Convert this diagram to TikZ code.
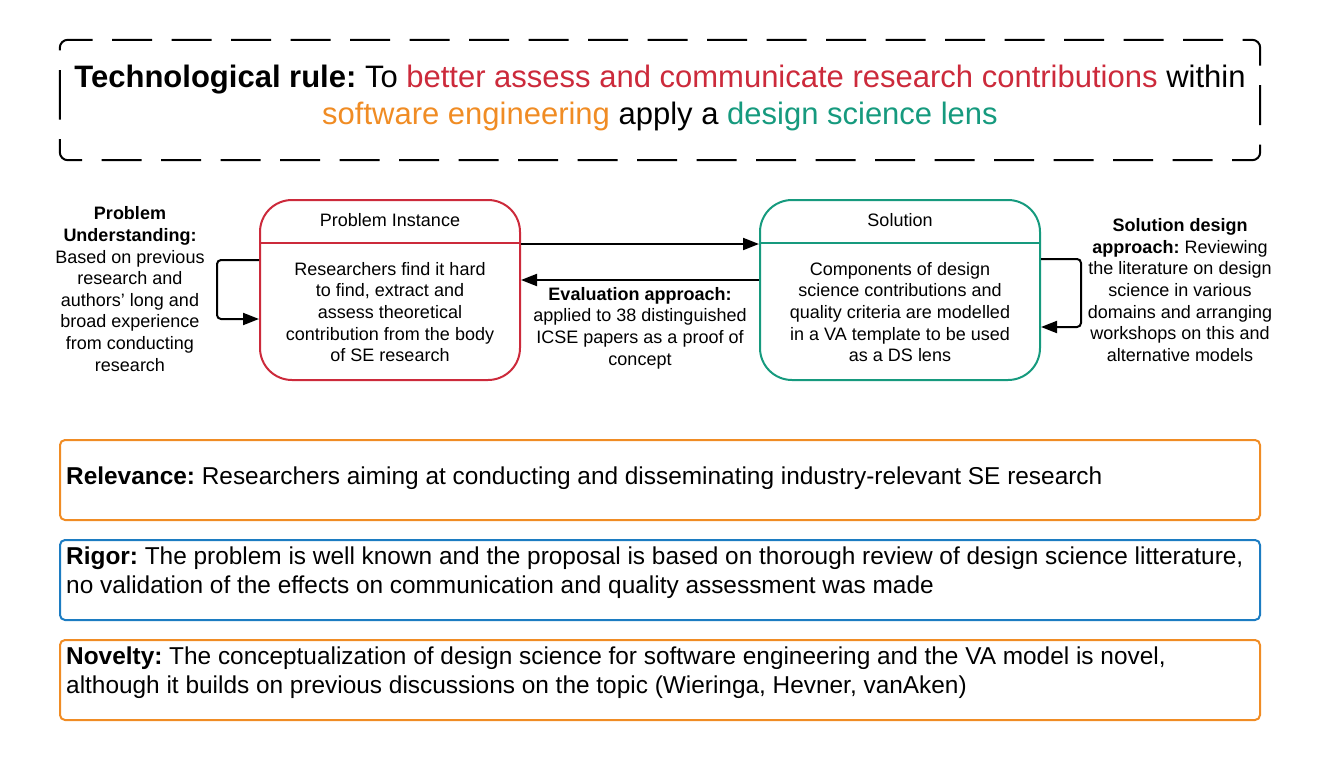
\documentclass[tikz,border=0pt]{standalone}
\usepackage{fontspec}
\setmainfont{Liberation Sans}
\usetikzlibrary{arrows.meta}
\definecolor{cred}{HTML}{CC2A3B}
\definecolor{cteal}{HTML}{169A7E}
\definecolor{corange}{HTML}{F08C24}
\definecolor{cblue}{HTML}{1C7CC2}
\AtBeginDocument{\frenchspacing}
\tikzset{
  bigbox/.style={draw, line width=2pt, rounded corners=32pt, minimum width=#1, minimum height=180pt, inner sep=0pt},
  infobox/.style={draw=#1, line width=2pt, rounded corners=5pt, minimum width=1200pt, minimum height=80pt, inner sep=0pt},
  t18/.style={font=\fontsize{18}{21.6}\selectfont, align=center, inner sep=0pt},
  t24/.style={font=\fontsize{24.4}{28.5}\selectfont, align=left, inner sep=0pt, anchor=north west},
  arr/.style={line width=2pt, -{Triangle[length=16pt,width=12pt]}},
  looparr/.style={line width=2pt, rounded corners=4pt, -{Triangle[length=16pt,width=12pt]}},
}
\begin{document}
\begin{tikzpicture}[x=1pt,y=-1pt]
\useasboundingbox (0,0) rectangle (1321,760);
% technological rule
\node[minimum width=1200pt, minimum height=120pt, inner sep=0pt] (rulebox) at (660,100) {};
\draw[line width=2pt, rounded corners=8pt, dash pattern=on 40pt off 19.5pt]
  ([yshift=-18pt]rulebox.west) -- (rulebox.north west) -- (rulebox.north east)
  -- (rulebox.south east) -- (rulebox.south west) -- cycle;
\node[font=\fontsize{31}{37}\selectfont, align=center, inner sep=0pt] (ruletext) at (660,98)
  {\textbf{Technological rule:} To \textcolor{cred}{better assess and communicate research contributions} within\\
   \textcolor{corange}{software engineering} apply a \textcolor{cteal}{design science lens}};
% problem instance
\node[bigbox=260pt, draw=cred] (prob) at (390,290) {};
\draw[cred, line width=2pt] ([yshift=47pt]prob.west) -- ([yshift=47pt]prob.east);
\node[t18] (ptitle) at (390,220) {Problem Instance};
\node[t18] (pbody) at (390,312) {Researchers find it hard\\to find, extract and\\assess theoretical\\contribution from the body\\of SE research};
% solution
\node[bigbox=280pt, draw=cteal] (sol) at (900,290) {};
\draw[cteal, line width=2pt] ([yshift=47pt]sol.west) -- ([yshift=47pt]sol.east);
\node[t18] (stitle) at (900,220) {Solution};
\node[t18] (sbody) at (900,312) {Components of design\\science contributions and\\quality criteria are modelled\\in a VA template to be used\\as a DS lens};
% arrows between
\draw[arr] ([yshift=46pt]prob.east) -- ([yshift=46pt]sol.west);
\draw[arr] ([yshift=10pt]sol.west) -- ([yshift=10pt]prob.east);
\node[t18] (evaltext) at (640,328) {\textbf{Evaluation approach:}\\applied to 38 distinguished\\ICSE papers as a proof of\\concept};
% loops
\draw[looparr] ([yshift=30pt]prob.west) -- ++(-42,0) |- ([yshift=-29pt]prob.west);
\node[t18] (putext) at (130,289) {\textbf{Problem}\\\textbf{Understanding:}\\Based on previous\\research and\\authors' long and\\broad experience\\from conducting\\research};
\draw[looparr] ([yshift=31pt]sol.east) -- ++(40,0) |- ([yshift=-37pt]sol.east);
\node[t18] (sdtext) at (1180,290) {\textbf{Solution design}\\\textbf{approach:} Reviewing\\the literature on design\\science in various\\domains and arranging\\workshops on this and\\alternative models};
% bottom boxes
\node[infobox=corange] (relbox) at (660,480) {};
\node[font=\fontsize{24.4}{28.5}\selectfont, inner sep=0pt, anchor=west] (reltext) at (66,478)
  {\textbf{Relevance:} Researchers aiming at conducting and disseminating industry-relevant SE research};
\node[infobox=cblue] (rigbox) at (660,580) {};
\node[t24] (rigtext) at (66,547)
  {\textbf{Rigor:} The problem is well known and the proposal is based on thorough review of design science litterature,\\
   no validation of the effects on communication and quality assessment was made};
\node[infobox=corange] (novbox) at (660,680) {};
\node[t24] (novtext) at (66,647)
  {\textbf{Novelty:} The conceptualization of design science for software engineering and the VA model is novel,\\
   although it builds on previous discussions on the topic (Wieringa, Hevner, vanAken)};
\end{tikzpicture}
\end{document}
